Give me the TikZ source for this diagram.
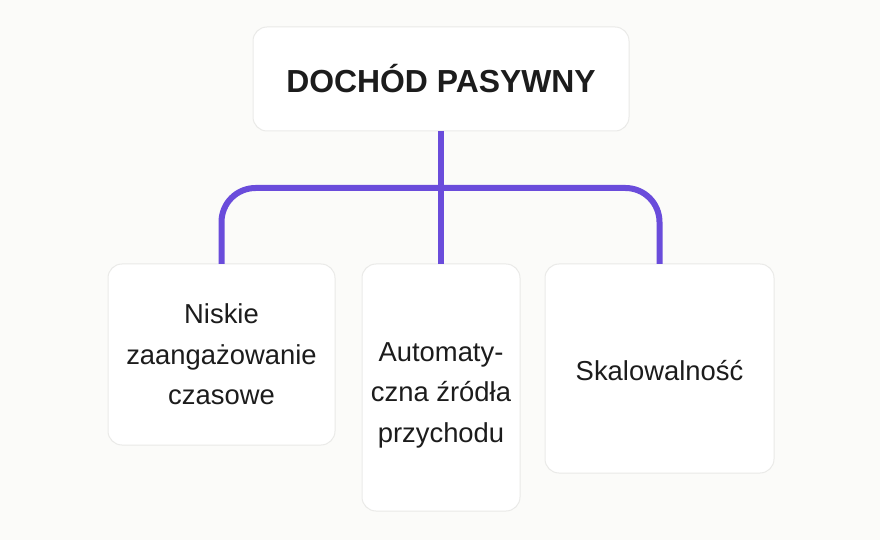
\documentclass[tikz,border=0pt]{standalone}
\usepackage{fontspec}
\setmainfont{Liberation Sans}
\definecolor{pagebg}{RGB}{251,251,249}
\definecolor{boxline}{RGB}{234,234,232}
\definecolor{linkviolet}{RGB}{106,76,219}
\definecolor{inkdark}{RGB}{28,28,28}
\begin{document}
\begin{tikzpicture}[x=1bp, y=-1bp,
    card/.style={draw=boxline, line width=1bp, fill=white, rounded corners=14bp,
      inner sep=0pt, outer sep=0pt, align=center, text=inkdark,
      font=\fontsize{27.5}{40.5}\selectfont},
    link/.style={linkviolet, line width=6bp}]
      % \draw[help lines] (0,0) grid[step=20] (880,540);
      \fill[pagebg] (0,0) rectangle (880,540);
      \node[card, minimum width=376bp, minimum height=104bp,
        font=\fontsize{32}{36}\selectfont\bfseries] (title) at (441,79) {DOCHÓD PASYWNY};
      \node[card, minimum width=227bp, minimum height=181bp] (low) at (221.5,354.5)
        {Niskie\\zaangażowanie\\czasowe};
      \node[card, minimum width=158bp, minimum height=247bp] (auto) at (441,387.5)
        {\rule{0pt}{34bp}Automaty-\\czna źródła\\przychodu};
      \node[card, minimum width=229bp, minimum height=209bp] (scale) at (659.5,368.5)
        {\rule{0pt}{25bp}Skalowalność};
      \coordinate (bus) at (441,188);
      \draw[link] (title.south) -- (auto.north);
      \draw[link, rounded corners=34bp] (low.north) -- (low.north |- bus)
        -- (scale.north |- bus) -- (scale.north);
\end{tikzpicture}
\end{document}
